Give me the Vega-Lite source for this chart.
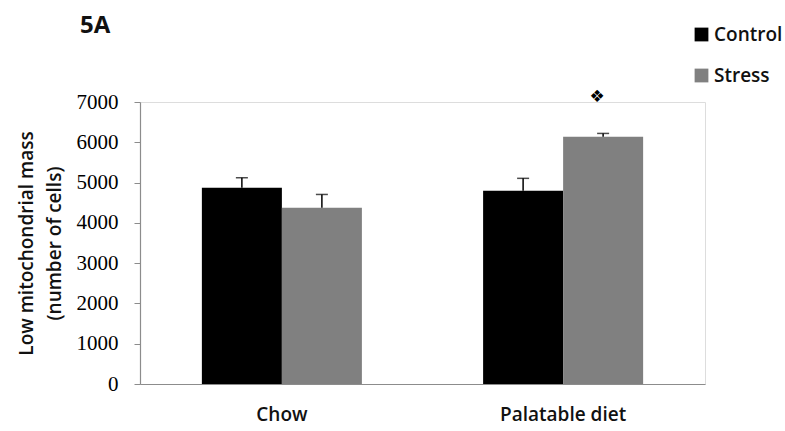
{
  "$schema": "https://vega.github.io/schema/vega-lite/v6.json",
  "autosize": {"type": "none"},
  "padding": {"left": 140, "top": 102, "right": 80, "bottom": 47},
  "width": 565,
  "height": 282,
  "background": "white",
  "title": {
    "text": "5A",
    "anchor": "start",
    "frame": "group",
    "dx": -60,
    "offset": -13,
    "font": "Open Sans",
    "fontSize": 24,
    "fontWeight": "bold",
    "color": "#111111"
  },
  "data": {
    "values": [
      {"diet": "Chow", "group": "Control", "cells": 4870, "se": 250},
      {"diet": "Chow", "group": "Stress", "cells": 4375, "se": 330},
      {"diet": "Palatable diet", "group": "Control", "cells": 4800, "se": 305},
      {"diet": "Palatable diet", "group": "Stress", "cells": 6140, "se": 80, "sig": "❖"}
    ]
  },
  "transform": [{"calculate": "datum.cells + datum.se", "as": "upper"}],
  "encoding": {
    "x": {
      "field": "diet",
      "type": "nominal",
      "sort": ["Chow", "Palatable diet"],
      "scale": {"paddingInner": 0.431, "paddingOuter": 0.22},
      "axis": {
        "title": null,
        "labelAngle": 0,
        "ticks": false,
        "labelPadding": 21,
        "labelFont": "Open Sans",
        "labelFontSize": 19,
        "labelFontWeight": 600,
        "labelColor": "#111111",
        "domainColor": "#8c8c8c",
        "domainWidth": 1.2
      }
    },
    "xOffset": {"field": "group", "type": "nominal", "sort": ["Control", "Stress"]}
  },
  "layer": [
    {
      "mark": {"type": "bar"},
      "encoding": {
        "y": {
          "field": "cells",
          "type": "quantitative",
          "scale": {"domain": [0, 7000]},
          "axis": {
            "values": [0, 1000, 2000, 3000, 4000, 5000, 6000, 7000],
            "format": "d",
            "grid": false,
            "tickSize": 6,
            "tickColor": "#8c8c8c",
            "domainColor": "#8c8c8c",
            "domainWidth": 1.2,
            "labelPadding": 16,
            "labelFont": "Liberation Serif",
            "labelFontSize": 21,
            "labelFontWeight": "normal",
            "labelColor": "#000000",
            "title": ["Low mitochondrial mass", "(number of cells)"],
            "titleFont": "Open Sans",
            "titleFontSize": 19,
            "titleFontWeight": 600,
            "titleColor": "#111111",
            "titleLineHeight": 28,
            "titleAngle": -90,
            "titleBaseline": "top",
            "titleX": -123
          }
        },
        "color": {
          "field": "group",
          "type": "nominal",
          "scale": {"domain": ["Control", "Stress"], "range": ["#000000", "#808080"]},
          "legend": {
            "title": null,
            "orient": "none",
            "legendX": 552,
            "legendY": -77,
            "padding": 0,
            "symbolType": "square",
            "symbolSize": 190,
            "symbolStrokeWidth": 0,
            "symbolOpacity": 1,
            "rowPadding": 21,
            "labelFont": "Open Sans",
            "labelFontSize": 19,
            "labelFontWeight": 600,
            "labelColor": "#111111",
            "labelOffset": 3
          }
        }
      }
    },
    {
      "mark": {"type": "rule", "color": "#000000", "strokeWidth": 1.5},
      "encoding": {
        "y": {"field": "cells", "type": "quantitative"},
        "y2": {"field": "upper"}
      }
    },
    {
      "mark": {"type": "tick", "color": "#000000", "size": 12, "thickness": 1.5},
      "encoding": {
        "y": {"field": "upper", "type": "quantitative"}
      }
    },
    {
      "transform": [{"filter": "datum.sig"}],
      "mark": {"type": "text", "font": "DejaVu Sans", "fontSize": 17, "color": "#000000", "dx": -6, "dy": -36},
      "encoding": {
        "y": {"field": "upper", "type": "quantitative"},
        "text": {"field": "sig"}
      }
    }
  ]
}
